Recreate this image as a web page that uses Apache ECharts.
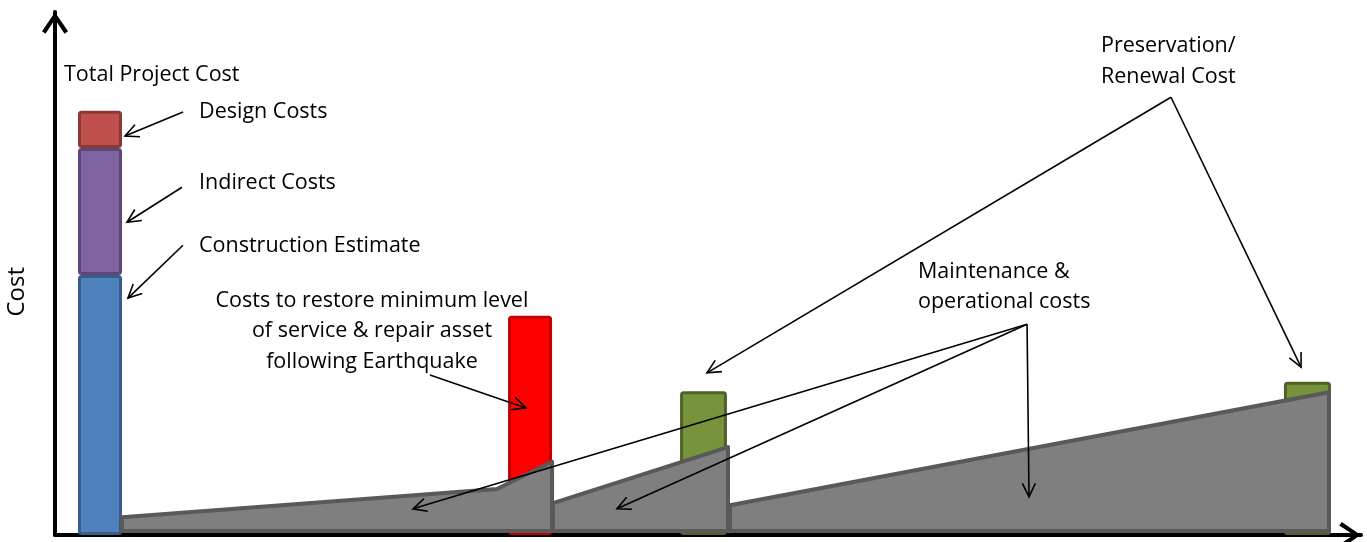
<!DOCTYPE html>
<html>
<head>
<meta charset="utf-8">
<script src="https://cdn.jsdelivr.net/npm/echarts@6/dist/echarts.min.js"></script>
<style>
html, body { margin: 0; padding: 0; background: #fff; }
#chart { width: 1367px; height: 542px; }
</style>
</head>
<body>
<div id="chart"></div>
<script>
// time (x) and cost (y) are both on an arbitrary 0-100 scale
var projectBarX = [1.76, 5.13];
var projectParts = ['Construction Estimate', 'Indirect Costs', 'Design Costs'];
var projectCosts = [49.7, 24.3, 7.1];

var eventNames = ['Earthquake repair', 'Preservation 1', 'Preservation 2'];
var eventStart = [34.69, 47.86, 94.10];
var eventEnd = [38.06, 51.45, 97.70];
var eventCost = [41.9, 27.5, 29.3];

// maintenance & operational cost profiles (top edge of each grey block)
var maintProfiles = [
    [[5.13, 3.4], [33.84, 8.8], [38.06, 14.0]],
    [[38.13, 6.1], [51.53, 16.8]],
    [[51.68, 5.7], [97.55, 27.3]]
];

var labelTexts = [
    'Total Project Cost',
    'Design Costs',
    'Indirect Costs',
    'Construction Estimate',
    'Costs to restore minimum level\nof service & repair asset\nfollowing Earthquake',
    'Maintenance &\noperational costs',
    'Preservation/\nRenewal Cost',
    'Cost'
];
var labelAt = [[0.69, 88.0], [11.03, 80.9], [11.03, 67.3], [11.03, 55.3], [24.27, 39.0], [66.08, 47.4], [80.09, 90.6], [-2.9, 46.5]];
var labelAlign = ['left', 'left', 'left', 'left', 'center', 'left', 'left', 'center'];
var labelRotate = [0, 0, 0, 0, 0, 0, 0, 90];

var arrowFrom = [[9.80, 80.9], [9.72, 66.5], [9.80, 55.4], [28.71, 30.6], [74.43, 40.3], [74.43, 40.3], [74.43, 40.3], [85.45, 83.7], [85.45, 83.7]];
var arrowTo = [[5.36, 76.3], [5.51, 59.8], [5.59, 45.3], [36.06, 24.3], [27.41, 5.0], [43.03, 5.0], [74.58, 7.3], [49.92, 31.0], [95.41, 32.1]];

var partColors = [['#4F81BD', '#385D8A'], ['#8064A2', '#5C4776'], ['#C0504D', '#8C3836']];
var eventColors = [['#FF0000', '#C00000'], ['#77933C', '#4F6228'], ['#77933C', '#4F6228']];

var chart = echarts.init(document.getElementById('chart'));

var arrowHead = 'path://M13,0 L26,19 L22.5,21.5 L13,7 L3.5,21.5 L0,19 Z';

// stacked project bar
var stackData = [];
var base = 0;
for (var i = 0; i < projectCosts.length; i++) {
    stackData.push([i, base, base + projectCosts[i]]);
    base += projectCosts[i];
}

function barRect(x0, x1, y0, y1, colors, api) {
    var p0 = api.coord([x0, y0]);
    var p1 = api.coord([x1, y1]);
    return {
        type: 'rect',
        shape: { x: p0[0] + 1.5, y: p1[1] + 1.5, width: p1[0] - p0[0] - 3, height: p0[1] - p1[1] - 3, r: 2 },
        style: { fill: colors[0], stroke: colors[1], lineWidth: 3 }
    };
}

var option = {
    animation: false,
    grid: { left: 55, right: 6, top: 12, bottom: 7 },
    xAxis: {
        type: 'value', min: 0, max: 100,
        axisLine: { show: true, lineStyle: { color: '#000', width: 4 }, symbol: ['none', arrowHead], symbolSize: [26, 22], symbolOffset: [0, -11] },
        axisTick: { show: false }, axisLabel: { show: false }, splitLine: { show: false }
    },
    yAxis: {
        type: 'value', min: 0, max: 100,
        axisLine: { show: true, lineStyle: { color: '#000', width: 4 }, symbol: ['none', arrowHead], symbolSize: [26, 22], symbolOffset: [0, -11] },
        axisTick: { show: false }, axisLabel: { show: false }, splitLine: { show: false }
    },
    series: [
        {
            name: 'Total Project Cost',
            type: 'custom',
            data: stackData,
            renderItem: function (params, api) {
                return barRect(projectBarX[0], projectBarX[1], api.value(1), api.value(2), partColors[params.dataIndex], api);
            }
        },
        {
            name: 'Events',
            type: 'custom',
            data: eventNames.map(function (n, i) { return [eventStart[i], eventEnd[i], eventCost[i]]; }),
            renderItem: function (params, api) {
                return barRect(api.value(0), api.value(1), 0, api.value(2), eventColors[params.dataIndex], api);
            }
        },
        {
            name: 'Maintenance',
            type: 'custom',
            data: maintProfiles.map(function (p, i) { return [i]; }),
            renderItem: function (params, api) {
                var prof = maintProfiles[params.dataIndex];
                var pts = [];
                var b0 = api.coord([prof[0][0], 0]);
                pts.push([b0[0], b0[1] - 4]);
                prof.forEach(function (p) { pts.push(api.coord(p)); });
                var b1 = api.coord([prof[prof.length - 1][0], 0]);
                pts.push([b1[0], b1[1] - 4]);
                return {
                    type: 'polygon',
                    shape: { points: pts },
                    style: { fill: '#7F7F7F', stroke: '#595959', lineWidth: 4, lineJoin: 'round' }
                };
            }
        },
        {
            name: 'Arrows',
            type: 'custom',
            data: arrowFrom.map(function (p, i) { return [i]; }),
            renderItem: function (params, api) {
                var a = api.coord(arrowFrom[params.dataIndex]);
                var b = api.coord(arrowTo[params.dataIndex]);
                var ang = Math.atan2(b[1] - a[1], b[0] - a[0]);
                var len = 15, spread = 0.45;
                return {
                    type: 'group',
                    children: [
                        { type: 'line', shape: { x1: a[0], y1: a[1], x2: b[0], y2: b[1] }, style: { stroke: '#000', lineWidth: 1.6 } },
                        {
                            type: 'polyline',
                            shape: { points: [
                                [b[0] - len * Math.cos(ang - spread), b[1] - len * Math.sin(ang - spread)],
                                b,
                                [b[0] - len * Math.cos(ang + spread), b[1] - len * Math.sin(ang + spread)]
                            ] },
                            style: { stroke: '#000', lineWidth: 1.6, fill: null }
                        }
                    ]
                };
            }
        },
        {
            name: 'Labels',
            type: 'custom',
            data: labelTexts.map(function (t, i) { return [i]; }),
            renderItem: function (params, api) {
                var i = params.dataIndex;
                var p = api.coord(labelAt[i]);
                return {
                    type: 'text',
                    x: p[0], y: p[1],
                    rotation: labelRotate[i] * Math.PI / 180,
                    style: {
                        text: labelTexts[i],
                        fill: '#000',
                        fontSize: labelRotate[i] ? 24 : 21.5,
                        fontFamily: 'Open Sans',
                        align: labelAlign[i],
                        verticalAlign: 'middle',
                        lineHeight: 30.5
                    }
                };
            }
        }
    ]
};

chart.setOption(option);
</script>
</body>
</html>
